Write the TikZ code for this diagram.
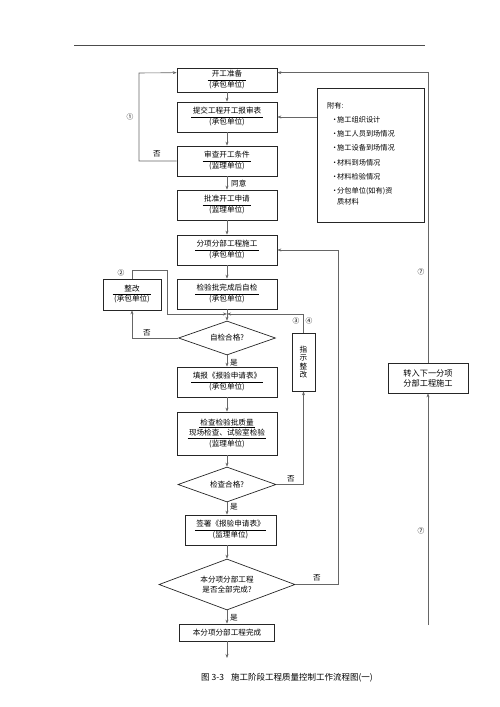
\documentclass[tikz,border=0pt]{standalone}
\usepackage{fontspec}
\setmainfont{Noto Sans CJK SC}
\usetikzlibrary{shapes.geometric,arrows.meta,calc}
\renewcommand{\arraystretch}{0.92}
\setlength{\arrayrulewidth}{0.45pt}
\newcommand{\twol}[2]{\begin{tabular}{@{\hspace{1.5pt}}c@{\hspace{1.5pt}}}#1\\\hline #2\end{tabular}}
\newcommand{\ulx}[1]{\underline{\,#1\,}}
\begin{document}
\begin{tikzpicture}[x=1pt,y=-1pt,
  pbox/.style={draw=black!85,line width=0.7pt,inner sep=0pt,align=center,
    font=\fontsize{7.6}{11}\selectfont,minimum width=100pt,minimum height=30pt},
  dia/.style={draw=black!85,line width=0.7pt,shape=diamond,inner sep=0pt,align=center,
    font=\fontsize{7.6}{10}\selectfont},
  conn/.style={draw=black!60,line width=0.6pt},
  arr/.style={conn,-{Stealth[length=4pt,width=3pt]}},
  lbl/.style={font=\fontsize{7.6}{9}\selectfont,inner sep=0pt},
  num/.style={font=\fontsize{6.8}{7}\selectfont,inner sep=0pt},
  fytxt/.style={font=\fontsize{7.2}{9}\selectfont,inner sep=0pt,anchor=west},
]
\useasboundingbox (0,0) rectangle (500,707);
% top rule
\coordinate (r1) at (74,45);
\coordinate (r2) at (425,45);
\draw[black!70,line width=0.8pt] (r1) -- (r2);

% main column
\node[pbox,minimum height=24pt] (b1) at (227,80) {\twol{开工准备}{(承包单位)}};
\node[pbox] (b2) at (227,117) {\twol{提交工程开工报审表}{(承包单位)}};
\node[pbox] (b3) at (227,161) {\twol{审查开工条件}{(监理单位)}};
\node[pbox] (b4) at (227,205) {\twol{批准开工申请}{(监理单位)}};
\node[pbox] (b5) at (227,250) {\twol{分项分部工程施工}{(承包单位)}};
\node[pbox] (b6) at (227,294) {\twol{检验批完成后自检}{(承包单位)}};
\node[pbox,minimum width=58pt,minimum height=31pt] (zg) at (132,294.5) {\twol{整改}{(承包单位)}};
\node[dia,aspect=2.85,minimum width=97pt,minimum height=34pt] (d1) at (227,338) {自检合格?};
\node[pbox] (b9) at (227,382) {\twol{填报《报验申请表》}{(承包单位)}};
\node[pbox,minimum height=43pt,font=\fontsize{7.6}{10.5}\selectfont] (b10) at (227,433.5)
  {\ulx{检查检验批质量}\\\ulx{现场检查、试验室检验}\\(监理单位)};
\node[dia,aspect=2.8,minimum width=98pt,minimum height=35pt] (d2) at (227,484.5) {检查合格?};
\node[pbox,minimum width=91pt] (b12) at (230.5,530) {\twol{签署《报验申请表》}{(监理单位)}};
\node[dia,aspect=2.67,minimum width=136pt,minimum height=51pt] (d3) at (227,584.5)
  {本分项分部工程\\是否全部完成?};
\node[pbox,minimum width=95pt,minimum height=17pt] (b14) at (227,632.5) {本分项分部工程完成};
\coordinate (e) at (227,658);

% side boxes
\node[pbox,minimum width=23pt,minimum height=58pt,font=\fontsize{7.6}{8.5}\selectfont] (zs) at (303.5,362)
  {指\\示\\整\\改};
\node[draw=black!85,line width=0.7pt,minimum width=107pt,minimum height=134pt,inner sep=0pt] (fy) at (370.5,155) {};
\node[pbox,minimum width=80pt,font=\fontsize{8.2}{10}\selectfont] (zr) at (428,378) {转入下一分项\\分部工程施工};

% attachment list
\node[fytxt] (f0) at (327,106) {附有:};
\node[fytxt] (f1) at (331,120) {\makebox[6pt][l]{•}施工组织设计};
\node[fytxt] (f2) at (331,134) {\makebox[6pt][l]{•}施工人员到场情况};
\node[fytxt] (f3) at (331,148) {\makebox[6pt][l]{•}施工设备到场情况};
\node[fytxt] (f4) at (331,162.5) {\makebox[6pt][l]{•}材料到场情况};
\node[fytxt] (f5) at (331,177) {\makebox[6pt][l]{•}材料检验情况};
\node[fytxt] (f6) at (331,191) {\makebox[6pt][l]{•}分包单位(如有)资};
\node[fytxt] (f7) at (337,202) {质材料};

% main flow arrows
\draw[arr] (b1) -- (b2);
\draw[arr] (b2) -- (b3);
\draw[arr] (b3) -- (b4);
\draw[arr] (b4) -- (b5);
\draw[arr] (b5) -- (b6);
\draw[arr] (b6) -- (d1);
\draw[arr] (d1) -- (b9);
\draw[arr] (b9) -- (b10);
\draw[arr] (b10) -- (d2);
\draw[arr] (d2.south) -- (d2.south |- b12.north);
\draw[arr] (d3.north |- b12.south) -- (d3.north);
\draw[arr] (d3) -- (b14);
\draw[arr] (b14) -- (e);

% loop 1
\draw[arr] (b3.west) -- (139,161) -- (139,73) -- ([yshift=-5pt]b1.north west);
% attachments
\draw[arr] (fy.west |- b2.east) -- (b2.east);
% right loop 7
\draw[arr] (zr.north) |- ([yshift=-5pt]b1.north east);
\coordinate (zb) at (428,625);
\draw[arr] (zb) -- (zr.south);

% junction
\coordinate (j) at (227,314);
\draw[arr] (zg.north) |- (167,270) -- (167,314) -- (j);
\draw[arr] (zs.north) |- (j);
\draw[arr] (d1.west) -| (zg.south);
\draw[arr] (d2.east) -| (zs.south);
\coordinate (rt) at (338,250);
\draw[arr] (d3.east) -| (rt) -- (b5.east);

% labels
\node[lbl] (l1) at (157,154) {否};
\node[num] (n1) at (130,117) {①};
\node[lbl,anchor=west] (l2) at (231,184) {同意};
\node[num] (n2) at (121,273) {②};
\node[lbl] (l3) at (147,333) {否};
\node[lbl,anchor=west] (l4) at (230,363) {是};
\node[num] (n3) at (296,321) {③};
\node[num] (n4) at (309,321) {④};
\node[lbl] (l5) at (291,479) {否};
\node[lbl,anchor=west] (l6) at (230,507) {是};
\node[lbl] (l7) at (317,578) {否};
\node[lbl,anchor=west] (l8) at (230,618) {是};
\node[num] (n7a) at (421,272) {⑦};
\node[num] (n7b) at (421,531) {⑦};

% caption
\node[inner sep=0pt,font=\fontsize{8.5}{10}\selectfont] (cap) at (287,678)
  {图 3-3\hspace{7pt}施工阶段工程质量控制工作流程图(一)};
\end{tikzpicture}
\end{document}
